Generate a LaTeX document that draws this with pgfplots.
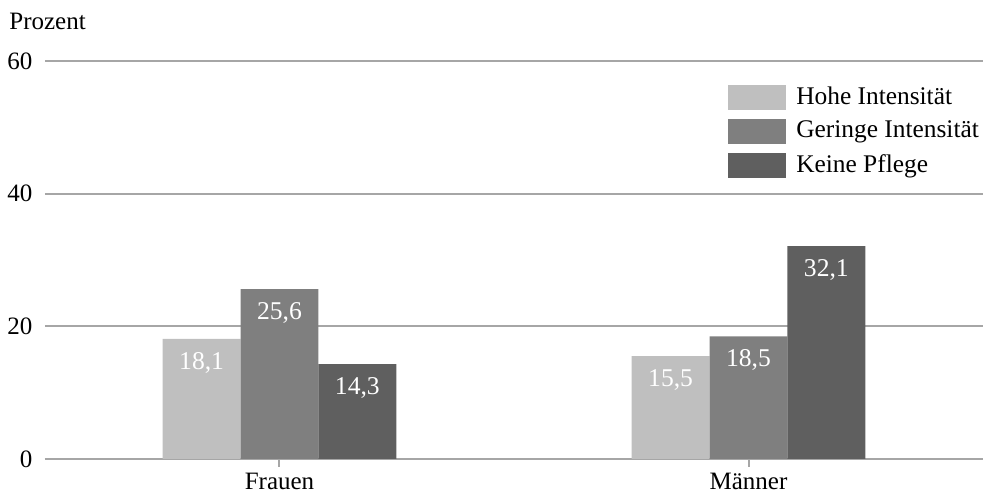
\documentclass[border=0pt]{standalone}
\usepackage{pgfplots}
\pgfplotsset{compat=1.18}
\usepackage{fontspec}
\setmainfont{Liberation Serif}
\definecolor{cLight}{HTML}{BFBFBF}
\definecolor{cMid}{HTML}{7F7F7F}
\definecolor{cDark}{HTML}{5F5F5F}
\definecolor{cGrid}{HTML}{A6A6A6}
\begin{document}
\fontsize{12.5}{15}\selectfont
\begin{tikzpicture}
\begin{axis}[
  scale only axis,
  width=469pt, height=199pt,
  ybar=0pt, bar width=0.166,
  xmin=-0.5, xmax=1.5,
  ymin=0, ymax=60,
  xtick=data, xticklabels={Frauen,Männer},
  ytick={0,20,40,60},
  ymajorgrids, grid style={cGrid, line width=1pt},
  axis x line*=bottom, axis y line*=left,
  y axis line style={draw=none},
  x axis line style={cGrid, line width=1pt, -},
  xtick style={cGrid, line width=1pt},
  major tick length=4pt,
  xtick align=outside,
  ytick style={draw=none},
  yticklabel style={anchor=east, xshift=-2pt},
  /pgf/number format/assume math mode=true,
  tick label style={font=\fontsize{12.5}{15}\selectfont},
  xticklabel style={yshift=1.5pt},
  point meta=explicit symbolic,
  nodes near coords,
  nodes near coords style={anchor=center, yshift=-12pt, text=white, font=\fontsize{12.8}{15}\selectfont},
  legend style={draw=none, fill=none, at={(rel axis cs:0.7255,0.952)}, anchor=north west,
    font=\fontsize{12.7}{15}\selectfont, row sep=2.6pt, inner sep=1pt,
    /tikz/every even column/.append style={column sep=4.5pt}},
  legend cell align=left,
  legend image code/.code={\fill[#1] (0pt,-6.25pt) rectangle (29pt,6.25pt);},
  clip=false,
]
\addplot[fill=cLight, draw=none] coordinates {(0,18.1) [18,1] (1,15.5) [15,5]};
\addplot[fill=cMid, draw=none] coordinates {(0,25.6) [25,6] (1,18.5) [18,5]};
\addplot[fill=cDark, draw=none] coordinates {(0,14.3) [14,3] (1,32.1) [32,1]};
\legend{\ Hohe Intensität,\ Geringe Intensität,\ Keine Pflege}
\coordinate (bl) at (rel axis cs:0,0);
\coordinate (tr) at (rel axis cs:1,1);
\node[anchor=base west, inner sep=0pt] at ([xshift=-18pt, yshift=15.5pt]tr -| bl) {Prozent};
\end{axis}
\pgfresetboundingbox
\path ([xshift=-22.5pt, yshift=-18pt]bl) rectangle ([xshift=4pt, yshift=30.5pt]tr);
\end{tikzpicture}
\end{document}
